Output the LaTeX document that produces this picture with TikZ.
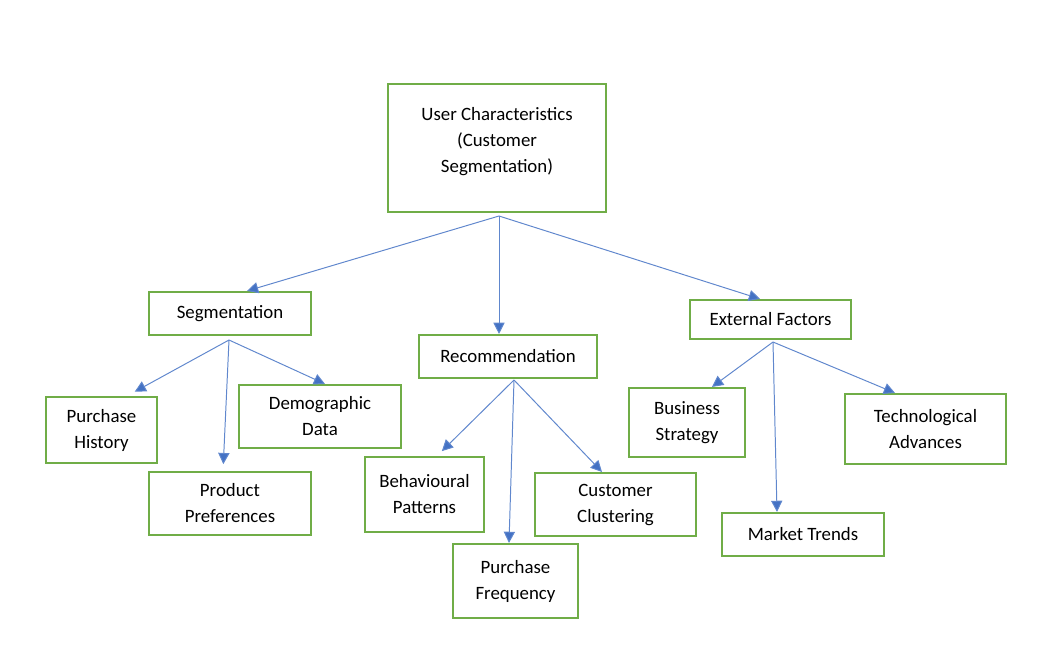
\documentclass[tikz,border=0pt]{standalone}
\usepackage{fontspec}
\setmainfont{Carlito}
\usetikzlibrary{arrows.meta}
\definecolor{boxgreen}{RGB}{112,173,71}
\definecolor{linkblue}{RGB}{68,114,196}
\begin{document}
\begin{tikzpicture}[x=0.025cm, y=-0.025cm,
  box/.style={draw=boxgreen, line width=1.5pt, align=center, inner sep=2pt,
    font=\fontsize{13.4}{18.5}\selectfont},
  link/.style={draw=linkblue!85, line width=0.7pt,
    -{Triangle[length=0.28cm, width=0.28cm, fill=linkblue]}}]
\useasboundingbox (0,0) rectangle (1044,667);
\node[box, minimum width=5.45cm, minimum height=3.2cm] (P_0_0) at (497,148) {User Characteristics\\(Customer\\Segmentation)\\[-0.25cm]};
\node[box, minimum width=4.05cm, minimum height=1.075cm] (P_1_0) at (230,313.5) {Segmentation};
\node[box, minimum width=4.45cm, minimum height=1.075cm] (P_1_1) at (508,356.5) {Recommendation};
\node[box, minimum width=4.025cm, minimum height=0.975cm] (P_1_2) at (770.5,319.5) {External Factors};
\node[box, minimum width=2.775cm, minimum height=1.65cm] (P_2_0) at (101.5,430) {Purchase\\History};
\node[box, minimum width=4.05cm, minimum height=1.575cm] (P_2_1) at (230,503.5) {Product\\Preferences};
\node[box, minimum width=4.05cm, minimum height=1.575cm] (P_2_2) at (320,416.5) {Demographic\\Data};
\node[box, minimum width=2.975cm, minimum height=1.875cm] (P_2_3) at (424.5,494.5) {Behavioural\\Patterns};
\node[box, minimum width=3.125cm, minimum height=1.85cm] (P_2_4) at (515.5,581) {Purchase\\Frequency};
\node[box, minimum width=4.025cm, minimum height=1.575cm] (P_2_5) at (615.5,504.5) {Customer\\Clustering};
\node[box, minimum width=2.9cm, minimum height=1.725cm] (P_2_6) at (687,422.5) {Business\\Strategy};
\node[box, minimum width=4.05cm, minimum height=1.075cm] (P_2_7) at (803,534.5) {Market Trends};
\node[box, minimum width=4.025cm, minimum height=1.75cm] (P_2_8) at (925.5,429) {Technological\\Advances};
% fan-out points below the boxes
\coordinate (O_0) at (499,216);
\coordinate (O_1) at (229,340);
\coordinate (O_2) at (514,380);
\coordinate (O_3) at (773,342);
\draw[link] (O_0) -- (P_1_0.north -| 247,0);
\draw[link] (O_0) -- (P_1_1.north -| 499,0);
\draw[link] (O_0) -- (P_1_2.north -| 760,0);
\draw[link, shorten >=0.22cm] (O_1) -- (P_2_0.north -| 127,0);
\draw[link, shorten >=0.17cm] (O_1) -- (P_2_1.north -| 223,0);
\draw[link] (O_1) -- (P_2_2.north -| 325,0);
\draw[link, shorten >=0.17cm] (O_2) -- (P_2_3.north -| 437,0);
\draw[link] (O_2) -- (P_2_4.north -| 509,0);
\draw[link] (O_2) -- (P_2_5.north -| 602,0);
\draw[link] (O_3) -- (P_2_6.north -| 712,0);
\draw[link] (O_3) -- (P_2_7.north -| 777,0);
\draw[link] (O_3) -- (P_2_8.north -| 895,0);
\end{tikzpicture}
\end{document}
